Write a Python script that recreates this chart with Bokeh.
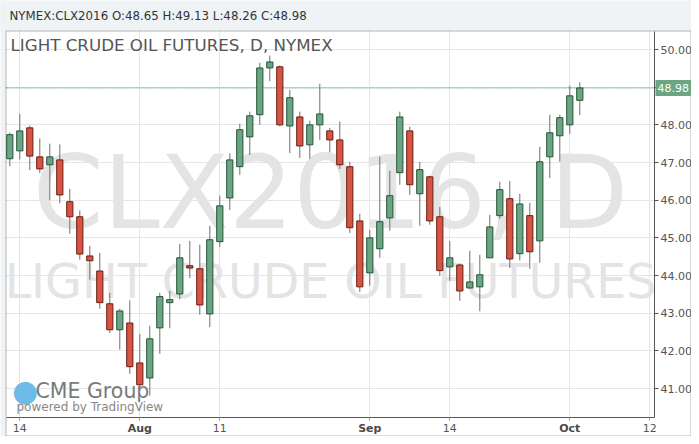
from bokeh.plotting import figure
from bokeh.models import (Range1d, FixedTicker, NumeralTickFormatter, Label, Span,
                          BoxAnnotation, ColumnDataSource)
from bokeh.embed import file_html
from bokeh.resources import INLINE

# ---- data ----
opens  = [47.10, 47.31, 47.92, 47.15, 46.94, 47.07, 45.96, 45.56, 44.52, 44.12,
          43.25, 42.56, 42.74, 41.68, 41.28, 42.61, 43.28, 43.51, 44.26, 44.18,
          42.98, 44.90, 46.06, 46.89, 47.68, 48.27, 49.51, 49.54, 47.97, 48.21,
          47.47, 48.00, 47.84, 47.60, 46.89, 45.45, 44.07, 44.71, 45.53, 46.73,
          47.84, 46.17, 46.62, 45.56, 44.23, 44.28, 43.67, 43.70, 44.47, 45.59,
          46.04, 44.58, 45.59, 44.92, 47.15, 47.71, 48.00, 48.65]
highs  = [47.80, 48.29, 47.98, 47.64, 47.50, 47.48, 46.30, 45.73, 44.79, 44.60,
          43.54, 43.12, 43.34, 42.45, 42.67, 43.54, 43.59, 44.84, 44.92, 44.82,
          45.32, 46.12, 47.24, 48.03, 48.35, 49.65, 49.84, 49.58, 48.93, 48.35,
          48.11, 49.09, 47.92, 48.09, 47.02, 45.64, 45.21, 47.15, 46.78, 48.35,
          47.95, 47.02, 46.65, 45.82, 44.92, 44.31, 44.66, 44.55, 45.61, 46.49,
          46.51, 46.17, 45.93, 47.42, 48.27, 48.27, 49.04, 49.13]
lows   = [46.90, 47.08, 46.80, 46.72, 46.00, 45.92, 45.11, 44.42, 43.89, 43.12,
          42.47, 42.03, 41.39, 41.00, 40.81, 41.92, 42.60, 43.37, 43.93, 42.96,
          42.63, 44.76, 45.74, 46.67, 47.20, 48.00, 49.16, 47.96, 47.25, 47.12,
          47.10, 47.60, 47.27, 46.83, 45.13, 43.56, 43.73, 44.47, 45.19, 46.41,
          46.14, 45.32, 45.35, 43.99, 43.86, 43.33, 43.65, 43.05, 44.47, 45.51,
          44.20, 44.40, 44.18, 44.34, 46.59, 47.02, 47.76, 48.26]
closes = [47.74, 47.84, 47.17, 46.83, 47.15, 46.14, 45.56, 44.57, 44.39, 43.28,
          42.56, 43.06, 41.58, 41.10, 42.32, 43.44, 43.36, 44.47, 44.20, 43.22,
          44.95, 45.85, 47.07, 47.87, 48.24, 49.51, 49.67, 48.00, 48.72, 47.44,
          48.00, 48.29, 47.60, 46.94, 45.27, 43.70, 45.00, 45.43, 46.12, 48.21,
          46.41, 46.81, 45.45, 44.13, 44.47, 43.59, 43.83, 44.02, 45.29, 46.28,
          44.44, 45.90, 44.63, 47.02, 47.79, 48.19, 48.77, 48.98]

time_tick_index = [1, 13, 21, 36, 44, 56, 64]
time_tick_text  = ["14", "Aug", "11", "Sep", "14", "Oct", "12"]
time_tick_bold  = [False, True, False, True, False, True, False]
price_ticks = [41, 42, 43, 44, 45, 46, 47, 48, 49, 50]

symbol = "NYMEX:CLX2016"
series_title = "LIGHT CRUDE OIL FUTURES, D, NYMEX"
watermark_1 = "CLX2016, D"
watermark_2 = "LIGHT CRUDE OIL FUTURES"

# ---- layout helpers (canvas pixels -> data coordinates) ----
W, H = 691, 436
PXU, PYU = 10.0, 37.67        # pixels per bar, pixels per dollar
XS, YT = -0.93, 51.301        # data value at canvas left / top edge
def X(px): return XS + px / PXU
def Y(py): return YT - py / PYU

PL, PR, PT, PB = 6, 654, 31, 417   # plot-area edges in canvas pixels

# ---- derived ----
idx = list(range(len(opens)))
up = [c >= o for o, c in zip(opens, closes)]

def subset(flag):
    sel = [i for i in idx if up[i] == flag]
    return ColumnDataSource(dict(
        x=sel,
        top=[max(opens[i], closes[i]) for i in sel],
        bottom=[min(opens[i], closes[i]) for i in sel],
        high=[highs[i] for i in sel],
        low=[lows[i] for i in sel],
    ))

src_up, src_dn = subset(True), subset(False)

GREEN, GREEN_DARK = "#6ba583", "#225437"
RED, RED_DARK = "#d75442", "#6b1c13"
BAND = "#eff3f6"
FONT = "DejaVu Sans"

p = figure(width=W, height=H,
           x_range=Range1d(X(0), X(W)), y_range=Range1d(Y(H), Y(0)),
           y_axis_location="right", output_backend="svg", toolbar_location=None,
           min_border_left=0, min_border_top=0, min_border_right=0, min_border_bottom=0,
           background_fill_color="white", border_fill_color=BAND)
p.outline_line_color = None
p.title.text = ""

# grid
p.xgrid.grid_line_color = "#e6e6e6"
p.ygrid.grid_line_color = "#e6e6e6"

# watermark
for txt, cy, size in [(watermark_1, 192, "101px"), (watermark_2, 280.5, "47.5px")]:
    p.add_layout(Label(x=X((PL + PR) / 2), y=Y(cy), text=txt,
                       text_align="center", text_baseline="middle",
                       text_font=FONT, text_font_size=size, text_color="#e4e4e4",
                       level="underlay"))

# last price line (under the candles, like the reference)
last = closes[-1]
p.add_layout(Span(location=last, dimension="width", line_color=GREEN,
                  line_dash="2 1", line_width=1, level="underlay"))

# panels around the plot area (cover the grid outside it)
p.add_layout(BoxAnnotation(left=X(PR + 1), right=X(W + 10), top=Y(PT), bottom=Y(H + 10),
                           fill_color="white", fill_alpha=1, line_color=None, level="underlay"))
p.add_layout(BoxAnnotation(left=X(-10), right=X(W + 10), top=Y(PB + 1), bottom=Y(H + 10),
                           fill_color="white", fill_alpha=1, line_color=None, level="underlay"))
p.add_layout(BoxAnnotation(left=X(-10), right=X(W + 10), top=Y(-10), bottom=Y(30),
                           fill_color=BAND, fill_alpha=1, line_color=None, level="underlay"))
p.add_layout(BoxAnnotation(left=X(-10), right=X(5), top=Y(-10), bottom=Y(H + 10),
                           fill_color=BAND, fill_alpha=1, line_color=None, level="underlay"))
p.add_layout(BoxAnnotation(left=X(5.5), right=X(W - 0.5), top=Y(30.5), bottom=Y(H - 0.5),
                           fill_color=None, line_color="#111111", line_width=1, level="underlay"))

# candles
for src, fill, edge in [(src_up, GREEN, GREEN_DARK), (src_dn, RED, RED_DARK)]:
    p.segment(x0="x", y0="high", x1="x", y1="low", source=src, line_color="#707070", line_width=1)
    p.vbar(x="x", top="top", bottom="bottom", width=0.62, source=src,
           fill_color=fill, line_color=edge, line_width=1)

# axes (drawn at the edges of the plot area)
ya = p.yaxis[0]
ya.fixed_location = X(PR)
ya.bounds = (Y(PB), Y(PT))
ya.ticker = FixedTicker(ticks=price_ticks)
ya.formatter = NumeralTickFormatter(format="0.00")
ya.major_label_text_font = FONT
ya.major_label_text_font_size = "11px"
ya.major_label_text_color = "#555555"
ya.axis_line_color = "#555555"
ya.major_tick_line_color = "#555555"
ya.major_tick_out = 4
ya.major_tick_in = 0
ya.minor_tick_line_color = None
ya.major_label_standoff = 2

xa = p.xaxis[0]
xa.fixed_location = Y(PB)
xa.bounds = (X(PL), X(PR))
xa.ticker = FixedTicker(ticks=time_tick_index)
xa.major_label_overrides = {i: ("" if b else t) for i, t, b in zip(time_tick_index, time_tick_text, time_tick_bold)}
xa.major_label_text_font = FONT
xa.major_label_text_font_size = "11px"
xa.major_label_text_color = "#555555"
xa.axis_line_color = "#555555"
xa.major_tick_line_color = "#999999"
xa.major_tick_out = 3
xa.major_tick_in = 0
xa.minor_tick_line_color = None
xa.major_label_standoff = 3
for i, t, b in zip(time_tick_index, time_tick_text, time_tick_bold):
    if b:
        p.add_layout(Label(x=i, y=Y(428), text=t,
                           text_align="center", text_baseline="middle", text_font=FONT,
                           text_font_size="11px", text_font_style="bold",
                           text_color="#4a4a4a"))

# last price marker on the price axis
p.add_layout(Label(x=X(PR + 1), y=last, text=f"{last:.2f}",
                   text_baseline="middle", text_align="left", text_font=FONT,
                   text_font_size="11px", text_color="white",
                   background_fill_color=GREEN, padding=(2, 4)))

# header and titles
p.add_layout(Label(x=X(9), y=Y(15), text=f"{symbol} O:{opens[-1]:.2f} H:{highs[-1]:.2f} L:{lows[-1]:.2f} C:{closes[-1]:.2f}",
                   text_font=FONT, text_font_size="11.8px", text_color="#333333",
                   text_baseline="middle"))
p.add_layout(Label(x=X(10), y=Y(44), text=series_title,
                   text_font=FONT, text_font_size="16.7px", text_color="#555555",
                   text_baseline="middle"))

# logo
p.add_layout(Label(x=X(24.7), y=Y(389.5), text="\u25cf",
                   text_align="center", text_baseline="middle", text_font=FONT,
                   text_font_size="30px", text_color="#6fbbe8"))
p.add_layout(Label(x=X(35), y=Y(390), text="CME Group",
                   text_font=FONT, text_font_size="20.5px", text_color="#7a7a7a",
                   text_baseline="middle"))
p.add_layout(Label(x=X(16), y=Y(406), text="powered by TradingView",
                   text_font=FONT, text_font_size="12px", text_color="#888888",
                   text_baseline="middle"))

open("out.html", "w").write(file_html(p, INLINE))
